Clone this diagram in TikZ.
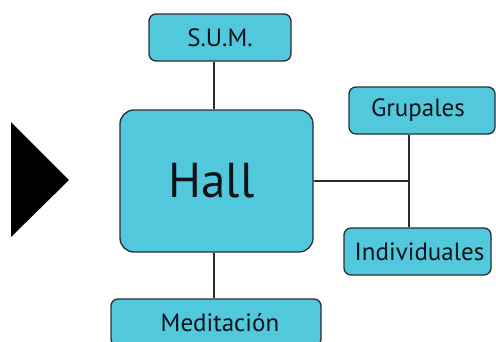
\documentclass[tikz,border=0pt]{standalone}
\usepackage{fontspec}
\setmainfont{PT Sans}
\definecolor{boxfill}{RGB}{82,200,220}
\definecolor{boxline}{RGB}{40,45,50}
\definecolor{txt}{RGB}{15,20,25}
\begin{document}
\begin{tikzpicture}[x=1pt,y=-1pt,
  box/.style={draw=boxline,line width=1.3pt,fill=boxfill,rounded corners=7pt,inner sep=0pt,text=txt,font=\fontsize{25}{28}\selectfont},
  conn/.style={draw=boxline,line width=1.2pt}]
\useasboundingbox (0,0) rectangle (496,341);
\begin{scope}
\clip (0,0) rectangle (496,341);
\fill (11,122) -- (69,180) -- (11,237) -- cycle;
\node[box,minimum width=142pt,minimum height=47pt] (sum) at (220,37.5) {S.U.M.};
\node[box,minimum width=193pt,minimum height=142pt,rounded corners=14pt,font=\fontsize{49}{56}\selectfont] (hall) at (216.5,181) {Hall\kern10pt};
\node[box,minimum width=146pt,minimum height=47pt] (grupales) at (422,110.5) {Grupales\kern8pt};
\node[box,minimum width=147pt,minimum height=47pt] (individuales) at (417.5,251.5) {\kern4pt Individuales};
\node[box,minimum width=210pt,minimum height=47pt] (meditacion) at (216,322.5) {\kern8pt Meditación};
\coordinate (j) at (409,181);
\draw[conn] (sum.south -| 214,0) -- (hall.north -| 214,0);
\draw[conn] (hall.south -| 214,0) -- (meditacion.north -| 214,0);
\draw[conn] (hall.east) -- (j);
\draw[conn] (grupales.south -| j) -- (individuales.north -| j);
\end{scope}
\end{tikzpicture}
\end{document}
